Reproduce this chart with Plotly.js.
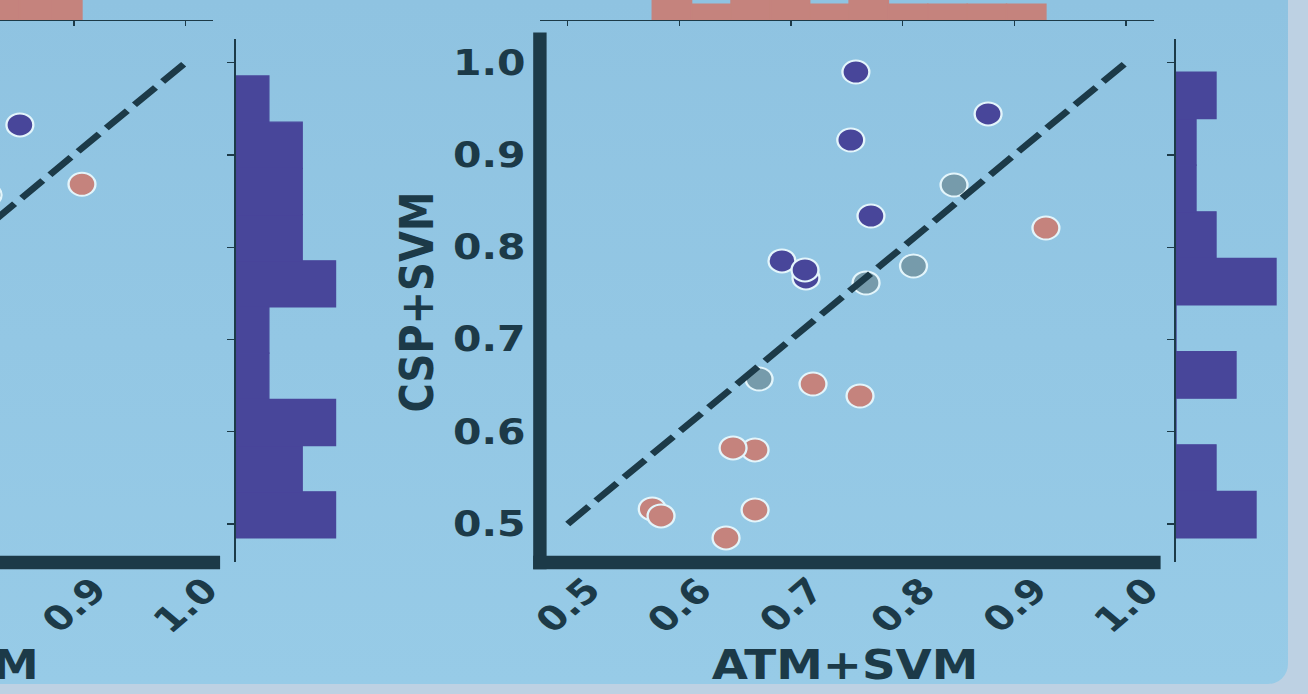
<!DOCTYPE html>
<html>
<head>
<meta charset="utf-8">
<script src="https://cdn.plot.ly/plotly-3.0.1.min.js"></script>
<style>
html,body{margin:0;padding:0;width:1308px;height:694px;overflow:hidden;background:#bdd1e3;}
#panel{position:absolute;left:0;top:0;width:1288px;height:684px;border-bottom-right-radius:20px;background:linear-gradient(to bottom,#8fc3e1,#97cbe7);}
#plot{position:absolute;left:-800px;top:-100px;width:1820px;height:794px;transform:scaleX(1.17);transform-origin:0 0;}
</style>
</head>
<body>
<div id="panel"></div>
<div id="plot"></div>
<script>
// ---------------- data ----------------
// right panel: ATM+SVM (x) vs CSP+SVM (y)
const purpleX = [0.7581, 0.8765, 0.7535, 0.7716, 0.6919, 0.7134, 0.7125];
const purpleY = [0.9899, 0.9444, 0.9162, 0.8338, 0.7851, 0.7667, 0.7753];
const greyX   = [0.8460, 0.8097, 0.7672, 0.6714];
const greyY   = [0.8674, 0.7796, 0.7612, 0.6571];
const salmonX = [0.9283, 0.7197, 0.7618, 0.6678, 0.6481, 0.5757, 0.5836, 0.6678, 0.6418];
const salmonY = [0.8208, 0.6517, 0.6387, 0.5802, 0.5824, 0.5163, 0.5087, 0.5152, 0.4848];
const diagX = [0.5, 1.0];
const diagY = [0.5, 1.0];
const xTicks = [0.5, 0.6, 0.7, 0.8, 0.9, 1.0];
const yTicks = [0.5, 0.6, 0.7, 0.8, 0.9, 1.0];
const xTitle = 'ATM+SVM';
const yTitle = 'CSP+SVM';

// left panel (only its right part is visible)
const leftPurpleX = [0.8517], leftPurpleY = [0.9325];
const leftSalmonX = [0.9073], leftSalmonY = [0.8682];
const leftGreyX   = [0.8232], leftGreyY   = [0.8566];
const leftYHistCounts = [3, 2, 3, 1, 1, 3, 2, 2, 2, 1];   // bottom -> top
const leftYHistRange  = [0.4848, 0.9856];
const leftXTicks = [0.9, 1.0];
const leftXTitle = 'ATM+SVM';

// ---------------- styling / geometry ----------------
const S = 1.17, OX = 800, OY = 100, W = 1820, H = 794;
const fx = p => (p + OX) / S / W;
const fy = p => 1 - (p + OY) / H;
const dark = '#1c3a48', purple = '#48469a', salmon = '#c5837d', grey = '#769bab', edge = '#e3f5fb';
const FONT = 'DejaVu Sans';

function hist(vals, n, lo, hi) {
  lo = (lo === undefined) ? Math.min(...vals) : lo;
  hi = (hi === undefined) ? Math.max(...vals) : hi;
  const w = (hi - lo) / n, c = new Array(n).fill(0);
  vals.forEach(v => { let k = Math.floor((v - lo) / w + 1e-9); if (k >= n) k = n - 1; if (k >= 0) c[k]++; });
  return {centers: c.map((_, i) => lo + (i + 0.5) * w), counts: c, width: w};
}
function padRange(vals) {
  const lo = Math.min(...vals), hi = Math.max(...vals), m = (hi - lo) * 0.05;
  return [lo - m, hi + m];
}

const allX = [...purpleX, ...greyX, ...salmonX];
const allY = [...purpleY, ...greyY, ...salmonY];
const xRange = padRange([...allX, ...diagX]);
const yRange = padRange([...allY, ...diagY]);
const topH = hist(allX, 10);
const rightH = hist(allY, 10);

const lAllX = [...leftPurpleX, ...leftSalmonX, ...leftGreyX];
const lxRange = padRange([...lAllX, ...diagX]);
const lyRange = padRange([...leftYHistRange, ...diagY]);
const lTopH = hist(lAllX, 3);
const lw = (leftYHistRange[1] - leftYHistRange[0]) / leftYHistCounts.length;
const lRightCenters = leftYHistCounts.map((_, i) => leftYHistRange[0] + (i + 0.5) * lw);
const lMax = Math.max(...leftYHistCounts);

function pts(x, y, color, xa, ya) {
  return {type: 'scatter', mode: 'markers', x: x, y: y, xaxis: xa, yaxis: ya, hoverinfo: 'skip',
          marker: {size: 23, color: color, line: {color: edge, width: 2}}};
}
function diag(xa, ya) {
  return {type: 'scatter', mode: 'lines', x: diagX, y: diagY, xaxis: xa, yaxis: ya, hoverinfo: 'skip',
          line: {color: dark, width: 6.2, dash: '25px,8.5px'}};
}
const barMarker = c => ({color: c, line: {color: c, width: 1.2}});

const traces = [
  // right panel
  {type: 'bar', x: topH.centers, y: topH.counts, width: topH.width, xaxis: 'x2', yaxis: 'y2',
   marker: barMarker(salmon), hoverinfo: 'skip'},
  {type: 'bar', orientation: 'h', y: rightH.centers, x: rightH.counts, width: rightH.width, xaxis: 'x3', yaxis: 'y3',
   marker: barMarker(purple), hoverinfo: 'skip'},
  pts(purpleX, purpleY, purple, 'x', 'y'),
  pts(greyX, greyY, grey, 'x', 'y'),
  pts(salmonX, salmonY, salmon, 'x', 'y'),
  diag('x', 'y'),
  // left panel
  {type: 'bar', x: lTopH.centers, y: lTopH.counts, width: lTopH.width, xaxis: 'x5', yaxis: 'y5',
   marker: barMarker(salmon), hoverinfo: 'skip'},
  {type: 'bar', orientation: 'h', y: lRightCenters, x: leftYHistCounts, width: lw, xaxis: 'x6', yaxis: 'y6',
   marker: barMarker(purple), hoverinfo: 'skip'},
  pts(leftPurpleX, leftPurpleY, purple, 'x4', 'y4'),
  pts(leftGreyX, leftGreyY, grey, 'x4', 'y4'),
  pts(leftSalmonX, leftSalmonY, salmon, 'x4', 'y4'),
  diag('x4', 'y4')
];

const layout = {width: W, height: H, margin: {l: 0, r: 0, t: 0, b: 0},
  paper_bgcolor: 'rgba(0,0,0,0)', plot_bgcolor: 'rgba(0,0,0,0)', showlegend: false, bargap: 0,
  font: {family: FONT, color: dark}, shapes: [], annotations: []};

const hidden = {visible: false, showgrid: false, zeroline: false};
const histAxis = {showline: true, linecolor: dark, linewidth: 1.3, ticks: 'outside', ticklen: 5, tickwidth: 1.3,
                  tickcolor: dark, showticklabels: false, showgrid: false, zeroline: false};

function panel(dx, xr, yr, topMax, rightMax, ticksX, ticksY, ids) {
  const [xs, ys, xt, yt, xr2, yr2] = ids;
  const scX = [fx(539.8 + dx), fx(1153.9 + dx)];
  const scY = [fy(561.7), fy(38.9)];
  layout['xaxis' + xs] = Object.assign({}, hidden, {domain: scX, range: xr, anchor: 'y' + ys});
  layout['yaxis' + ys] = Object.assign({}, hidden, {domain: scY, range: yr, anchor: 'x' + xs});
  layout['xaxis' + xt] = Object.assign({}, histAxis, {domain: scX, range: xr, anchor: 'y' + yt, tickvals: ticksX, side: 'bottom'});
  layout['yaxis' + yt] = Object.assign({}, hidden, {domain: [fy(20.0), fy(20.0 - 84)], range: [0, topMax * 1.05], anchor: 'x' + xt});
  layout['xaxis' + xr2] = Object.assign({}, hidden, {domain: [fx(1176 + dx), fx(1176 + 105 + dx)], range: [0, rightMax * 1.05], anchor: 'y' + yr2});
  layout['yaxis' + yr2] = Object.assign({}, histAxis, {domain: scY, range: yr, anchor: 'x' + xr2, tickvals: ticksY, side: 'left', ticklen: 6});
  const rect = (x0, x1, y0, y1) => ({type: 'rect', xref: 'paper', yref: 'paper', x0: fx(x0 + dx), x1: fx(x1 + dx),
     y0: fy(y1), y1: fy(y0), fillcolor: dark, line: {width: 0}, layer: 'above'});
  layout.shapes.push(rect(533.2, 546.6, 32.4, 569.2));
  layout.shapes.push(rect(533.2, 1160.6, 555.8, 569.2));
}
panel(0, xRange, yRange, Math.max(...topH.counts), Math.max(...rightH.counts), xTicks, yTicks, ['', '', '2', '2', '3', '3']);
panel(-940.5, lxRange, lyRange, lMax, lMax, leftXTicks, yTicks, ['4', '4', '5', '5', '6', '6']);

const tickFontX = {family: FONT, size: 34, color: dark, weight: 'bold'};
const tickFontY = {family: FONT, size: 35, color: dark, weight: 'bold'};
const titleFont = {family: FONT, size: 40, color: dark, weight: 'bold'};

xTicks.forEach(v => layout.annotations.push({xref: 'x', yref: 'paper', x: v, y: fy(605), text: v.toFixed(1),
  textangle: -45, showarrow: false, xanchor: 'center', yanchor: 'middle', font: tickFontX}));
leftXTicks.forEach(v => layout.annotations.push({xref: 'x4', yref: 'paper', x: v, y: fy(605), text: v.toFixed(1),
  textangle: -45, showarrow: false, xanchor: 'center', yanchor: 'middle', font: tickFontX}));
yTicks.forEach(v => layout.annotations.push({xref: 'paper', yref: 'y', x: fx(527.5), y: v, text: v.toFixed(1),
  showarrow: false, xanchor: 'right', yanchor: 'middle', font: tickFontY}));
layout.annotations.push({xref: 'paper', yref: 'paper', x: fx(845.5), y: fy(664.7), text: xTitle, showarrow: false,
  xanchor: 'center', yanchor: 'middle', font: titleFont});
layout.annotations.push({xref: 'paper', yref: 'paper', x: fx(845.5 - 940.5), y: fy(664.7), text: leftXTitle, showarrow: false,
  xanchor: 'center', yanchor: 'middle', font: titleFont});
layout.annotations.push({xref: 'paper', yref: 'paper', x: fx(416.7), y: fy(301.7), text: yTitle, textangle: -90, showarrow: false,
  xanchor: 'center', yanchor: 'middle', font: titleFont});

Plotly.newPlot('plot', traces, layout, {staticPlot: true, displayModeBar: false});
</script>
</body>
</html>
